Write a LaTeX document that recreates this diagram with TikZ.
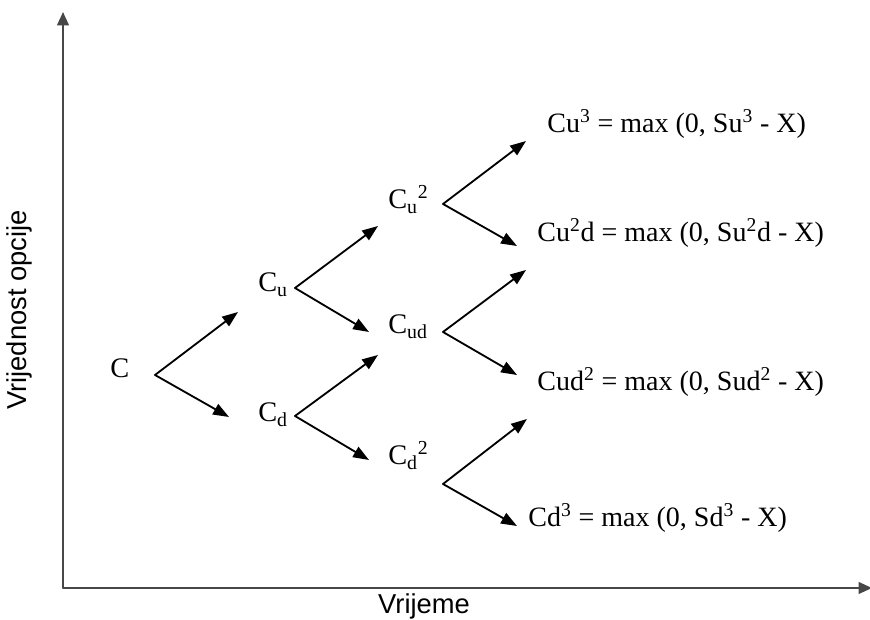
\documentclass[tikz,border=0pt]{standalone}
\usepackage{fontspec}
\setmainfont{Liberation Serif}
\setsansfont{Liberation Sans}
\usetikzlibrary{arrows.meta}

\tikzset{
  val/.style={font=\fontsize{17}{20}\selectfont, inner sep=0pt, anchor=base west},
  payoff/.style={font=\fontsize{16.8}{20}\selectfont, inner sep=0pt, anchor=base west},
  axlabel/.style={font=\sffamily\fontsize{16.4}{19}\selectfont, inner sep=0pt},
  branch/.style={line width=1.1pt, -{Triangle[length=9.5pt,width=7pt]}},
  axis/.style={line width=1.2pt, draw=black!72, -{Triangle[length=8pt,width=7pt]}},
}

\begin{document}
\begin{tikzpicture}[x=0.6pt, y=-0.6pt, line cap=round, line join=round]
  \useasboundingbox (0,0) rectangle (870,620);

  % axes
  \coordinate (O) at (63,588);
  \coordinate (top) at (63,12);
  \coordinate (right) at (872,588);
  \draw[axis] (O) -- (top);
  \draw[axis] (O) -- (right);
  \node[axlabel, rotate=90] (vlab) at (19,310) {Vrijednost opcije};
  \node[axlabel] (tlab) at (424,606) {Vrijeme};

  % tree nodes
  \node[val] (C)   at (110,378) {C};
  \node[val] (Cu)  at (258,292) {C\textsubscript{u}};
  \node[val] (Cd)  at (258,422) {C\textsubscript{d}};
  \node[val] (Cuu) at (388,209) {C\textsubscript{u}\textsuperscript{2}};
  \node[val] (Cud) at (388,334) {C\textsubscript{ud}};
  \node[val] (Cdd) at (388,465) {C\textsubscript{d}\textsuperscript{2}};

  % payoffs at expiry
  \node[payoff] (Cuuu) at (547,133) {Cu\textsuperscript{3} = max (0, Su\textsuperscript{3} - X)};
  \node[payoff] (Cuud) at (537,242) {Cu\textsuperscript{2}d = max (0, Su\textsuperscript{2}d - X)};
  \node[payoff] (Cudd) at (537,391) {Cud\textsuperscript{2} = max (0, Sud\textsuperscript{2} - X)};
  \node[payoff] (Cddd) at (528,527) {Cd\textsuperscript{3} = max (0, Sd\textsuperscript{3} - X)};

  % one fork per node: up move and down move
  \foreach \n/\fx/\fy/\ux/\uy/\dx/\dy in {
      C/155/375/238/312/229/417,
      Cu/295/288/378/226/369/332,
      Cd/295/416/378/355/369/460,
      Cuu/443/204/526/141/517/246,
      Cud/443/332/526/270/517/375,
      Cdd/443/484/527/419/517/526} {
    \coordinate (\n-fork) at (\fx,\fy);
    \coordinate (\n-up) at (\ux,\uy);
    \coordinate (\n-dn) at (\dx,\dy);
    \draw[branch] (\n-fork) -- (\n-up);
    \draw[branch] (\n-fork) -- (\n-dn);
  }
\end{tikzpicture}
\end{document}
